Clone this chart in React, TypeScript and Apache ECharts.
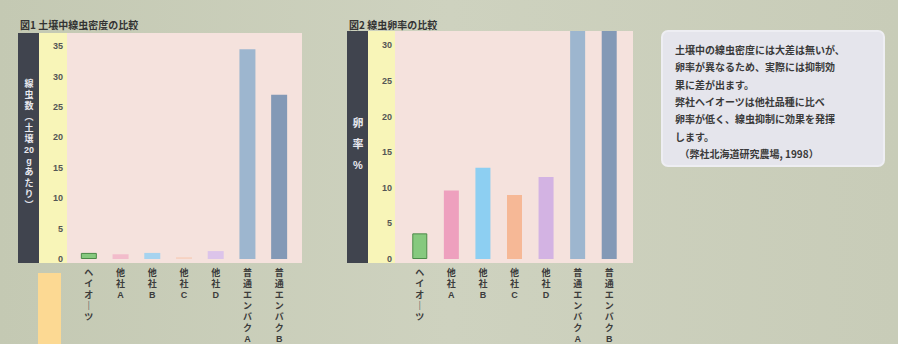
import React, { useEffect, useRef } from "react";
import * as echarts from "echarts";

const categories1 = ["ヘイオーツ", "他社A", "他社B", "他社C", "他社D", "普通エンバクA", "普通エンバクB"];
const values1 = [1.0, 0.8, 1.0, 0.3, 1.3, 34.5, 27.0];
const colors1 = ["#86c97e", "#f2bccb", "#a6d3ef", "#f6d2c2", "#dcc4ea", "#9db6cf", "#8399b6"];

const categories2 = ["ヘイオーツ", "他社A", "他社B", "他社C", "他社D", "普通エンバクA", "普通エンバクB"];
const values2 = [3.6, 9.6, 12.8, 9.0, 11.5, 40, 45];
const colors2 = ["#86c97e", "#eea0be", "#8dcff2", "#f6b896", "#d3b3e3", "#9db6cf", "#8399b6"];

const title1 = "図1 土壌中線虫密度の比較";
const title2 = "図2 線虫卵率の比較";
const yTitle1 = ["線", "虫", "数", "︵", "土", "壌", "20", "g", "あ", "た", "り", "︶"];
const yTitle2 = ["卵", "率", "%"];
const noteLines = [
  "土壌中の線虫密度には大差は無いが、",
  "卵率が異なるため、実際には抑制効",
  "果に差が出ます。",
  "弊社ヘイオーツは他社品種に比べ",
  "卵率が低く、線虫抑制に効果を発揮",
  "します。",
  "  （弊社北海道研究農場, 1998）",
];

const VFONT = "'Liberation Sans', 'Noto Sans CJK JP', sans-serif";
const vert = (s: string) => Array.from(s.replace(/ー/g, "｜")).join("\n");

export default function App() {
  const ref = useRef<HTMLDivElement>(null);
  useEffect(() => {
    if (!ref.current) return;
    const chart = echarts.init(ref.current, undefined, { renderer: "svg" });
    const mkData = (vals: number[], cols: string[]) =>
      vals.map((v, i) => ({
        value: v,
        itemStyle: {
          color: cols[i],
          borderColor: i === 0 ? "#4b8a48" : undefined,
          borderWidth: i === 0 ? 1 : 0,
        },
      }));
    const xAxisCommon = {
      type: "category" as const,
      axisLine: { show: false },
      axisTick: { show: false },
      axisLabel: {
        interval: 0,
        margin: 8,
        fontSize: 9,
        lineHeight: 11,
        color: "#3c3c3c",
        fontFamily: VFONT,
        fontWeight: "bold" as const,
        formatter: (v: string) => vert(v),
      },
    };
    const yAxisCommon = {
      type: "value" as const,
      min: 0,
      interval: 5,
      splitLine: { show: false },
      axisLine: { show: false },
      axisTick: { show: false },
    };
    const yLabel = (margin: number) => ({
      margin,
      fontSize: 9,
      color: "#555",
      fontWeight: "bold" as const,
      formatter: (v: number) => (v % 5 === 0 ? String(v) : ""),
    });
    const vChars = (chars: string[], x: number, y0: number, step: number, size: number) =>
      chars.map((c, i) => ({
        type: "text",
        x,
        y: y0 + i * step,
        style: {
          text: c,
          fontSize: size,
          fontWeight: "bold",
          fill: "#e8e8ee",
          align: "center",
          verticalAlign: "top",
          fontFamily: VFONT,
        },
      }));
    chart.setOption({
      animation: false,
      backgroundColor: {
        type: "linear",
        x: 0,
        y: 0,
        x2: 1,
        y2: 0,
        colorStops: [
          { offset: 0, color: "#c4c9b3" },
          { offset: 0.5, color: "#ced2bf" },
          { offset: 1, color: "#c8ccb8" },
        ],
      },
      grid: [
        { left: 73, top: 34, width: 222, height: 228 },
        { left: 404, top: 31, width: 221, height: 231 },
      ],
      xAxis: [
        { ...xAxisCommon, gridIndex: 0, data: categories1 },
        { ...xAxisCommon, gridIndex: 1, data: categories2 },
      ],
      yAxis: [
        { ...yAxisCommon, gridIndex: 0, max: 37, axisLabel: yLabel(10) },
        { ...yAxisCommon, gridIndex: 1, max: 32, axisLabel: yLabel(12) },
      ],
      series: [
        { type: "bar", xAxisIndex: 0, yAxisIndex: 0, barWidth: 16, clip: true, data: mkData(values1, colors1) },
        { type: "bar", xAxisIndex: 1, yAxisIndex: 1, barWidth: 15, clip: true, data: mkData(values2, colors2) },
      ],
      graphic: [
        { type: "rect", z: -1, shape: { x: 18, y: 33, width: 21, height: 230 }, style: { fill: "#40444e" } },
        { type: "rect", z: -1, shape: { x: 39, y: 33, width: 28, height: 230 }, style: { fill: "#f8f5b8" } },
        { type: "rect", z: -1, shape: { x: 67, y: 33, width: 235, height: 230 }, style: { fill: "#f5e2dd" } },
        { type: "rect", z: -1, shape: { x: 38, y: 273, width: 23, height: 71 }, style: { fill: "#fcd993" } },
        { type: "rect", z: -1, shape: { x: 347, y: 31, width: 21, height: 232 }, style: { fill: "#40444e" } },
        { type: "rect", z: -1, shape: { x: 368, y: 31, width: 27, height: 232 }, style: { fill: "#f8f5b8" } },
        { type: "rect", z: -1, shape: { x: 395, y: 31, width: 238, height: 232 }, style: { fill: "#f5e2dd" } },
        {
          type: "text",
          left: 20,
          top: 19,
          style: { text: title1, fontSize: 10, fontWeight: "bold", fill: "#333", fontFamily: "Noto Sans CJK JP" },
        },
        {
          type: "text",
          left: 349,
          top: 19,
          style: { text: title2, fontSize: 10, fontWeight: "bold", fill: "#333", fontFamily: "Noto Sans CJK JP" },
        },
        ...vChars(yTitle1, 29, 79, 11, 9),
        ...vChars(yTitle2, 358, 117, 21, 11),
        {
          type: "rect",
          z: -1,
          shape: { x: 662, y: 31, width: 222, height: 135, r: 6 },
          style: { fill: "#e5e5ec", stroke: "#eeeef3", lineWidth: 2 },
        },
        {
          type: "text",
          left: 675,
          top: 41,
          style: {
            text: noteLines.join("\n"),
            fontSize: 10,
            lineHeight: 17.3,
            fontWeight: "bold",
            fill: "#3a3a3a",
            fontFamily: "Noto Sans CJK JP",
          },
        },
      ],
    });
    return () => chart.dispose();
  }, []);
  return <div ref={ref} style={{ position: "fixed", left: 0, top: 0, width: 898, height: 344 }} />;
}
